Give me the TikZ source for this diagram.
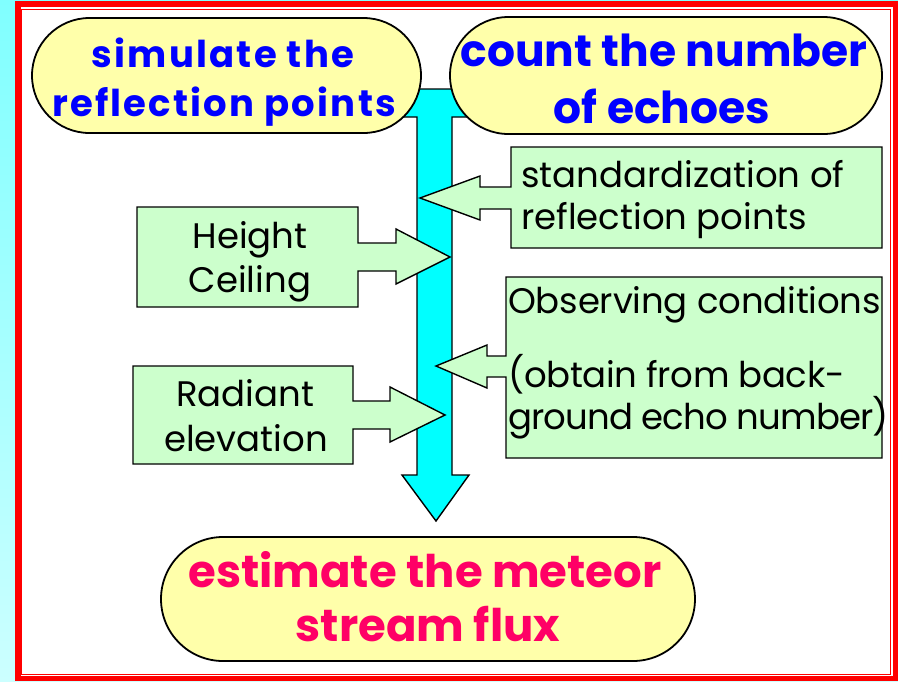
\documentclass[tikz,border=0pt]{standalone}
\usepackage{fontspec}
\setmainfont{Poppins}
\usetikzlibrary{shapes.misc}
\definecolor{cyantop}{RGB}{128,255,255}
\definecolor{cyanbot}{RGB}{204,255,255}
\definecolor{pillfill}{RGB}{255,255,170}
\definecolor{greenfill}{RGB}{204,255,204}
\definecolor{trunk}{RGB}{0,255,255}
\definecolor{hdrblue}{RGB}{0,0,255}
\definecolor{hdrmag}{RGB}{255,0,102}
\begin{document}
\begin{tikzpicture}[x=1pt,y=-1pt,
  pill/.style={rounded rectangle, draw=black, line width=1.8pt, fill=pillfill, inner sep=0pt},
  callout/.style={draw=black, line width=1.4pt, fill=greenfill, line join=miter},
  trunkstyle/.style={draw=black, line width=1.4pt, fill=trunk, line join=miter},
  hdrS/.style={inner sep=0pt, anchor=base, text=hdrblue, font=\fontsize{37}{44}\selectfont\bfseries\addfontfeature{LetterSpace=6}},
  hdrL/.style={inner sep=0pt, anchor=base, text=hdrblue, font=\fontsize{44}{52}\selectfont\bfseries},
  hdrM/.style={inner sep=0pt, anchor=base, text=hdrmag, font=\fontsize{45}{52}\selectfont\bfseries},
  txt/.style={inner sep=0pt, anchor=base, text=black, font=\fontsize{35.5}{42}\selectfont},
  txtl/.style={inner sep=0pt, anchor=base west, text=black, font=\fontsize{35.5}{42}\selectfont}]
\useasboundingbox (0,0) rectangle (898,681);
% background and frame
\shade[top color=cyantop, bottom color=cyanbot] (0,0) rectangle (898,681);
\fill[white] (15,1) rectangle (898,681);
\draw[red, line width=5.5pt] (17.75,3.75) rectangle (895.25,678.25);
\draw[red, line width=1.2pt] (21.8,9.2) rectangle (890.2,674.2);
% trunk arrow
\draw[trunkstyle] (395,89) -- (475,89) -- (475,117) -- (452,117) -- (452,475) -- (469,475)
  -- (436,521) -- (402,475) -- (417,475) -- (417,117) -- (395,117) -- cycle;
% pills
\node[pill, minimum width=389pt, minimum height=115pt] (simpill) at (226.5,75.5) {};
\node[pill, minimum width=432pt, minimum height=117pt] (cntpill) at (666,75.5) {};
\node[pill, minimum width=534pt, minimum height=124pt] (estpill) at (428,599) {};
\node[hdrS] (sim1) at (223,67) {simulate the};
\node[hdrS] (sim2) at (224,116) {reflection points};
\node[hdrL] (cnt1) at (664,66) {count the number};
\node[hdrL] (cnt2) at (662,123) {of echoes};
\node[hdrM] (est1) at (425,587) {estimate the meteor};
\node[hdrM] (est2) at (428,641) {stream flux};
% callouts
\draw[callout] (137,207) -- (358,207) -- (358,243) -- (396,243) -- (396,229) -- (450,257)
  -- (396,284) -- (396,271) -- (358,271) -- (358,307) -- (137,307) -- cycle;
\node[txt] (h1) at (250,248) {Height};
\node[txt] (h2) at (250,292) {Ceiling};
\draw[callout] (133,366) -- (353,366) -- (353,401) -- (390,401) -- (390,387) -- (445,415)
  -- (390,442) -- (390,429) -- (353,429) -- (353,464) -- (133,464) -- cycle;
\node[txt] (r1) at (245,406) {Radiant};
\node[txt] (r2) at (246,451) {elevation};
\draw[callout] (511,147) -- (882,147) -- (882,248) -- (511,248) -- (511,209) -- (480,209)
  -- (480,220) -- (420,198) -- (480,176) -- (480,187) -- (511,187) -- cycle;
\node[txtl] (s1) at (521,187) {standardization of};
\node[txtl] (s2) at (521,229) {reflection points};
\draw[callout] (506,277) -- (882,277) -- (882,458) -- (506,458) -- (506,377) -- (487,377)
  -- (487,388) -- (436,366) -- (487,345) -- (487,356) -- (506,356) -- cycle;
\node[txtl] (o1) at (508,313) {\addfontfeature{LetterSpace=-0.5}Observing conditions};
\node[txtl] (o2) at (508,387) {\addfontfeature{LetterSpace=-1}(obtain from back-};
\node[txtl] (o3) at (508,429) {\addfontfeature{LetterSpace=-2.5}ground echo number)};
\end{tikzpicture}
\end{document}
